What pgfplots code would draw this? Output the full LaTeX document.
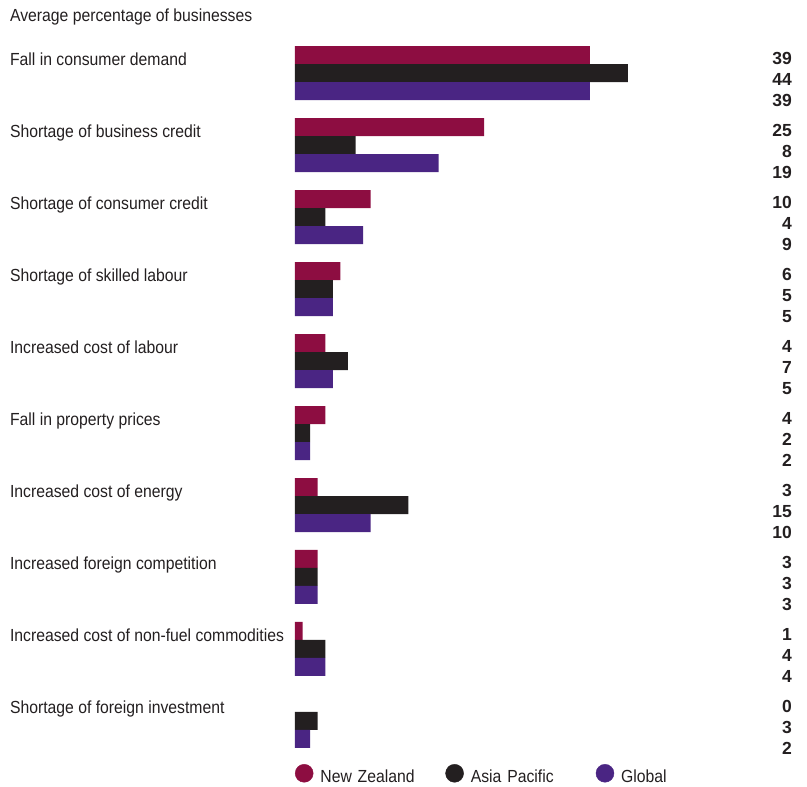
\documentclass[border=0pt]{standalone}
\usepackage{fontspec}
\setmainfont{Liberation Sans}[FakeStretch=0.9]
\newfontfamily\numfont{Liberation Sans}
\usepackage{pgfplots}
\pgfplotsset{compat=1.18}
\usepackage{pgfplotstable}
\definecolor{nz}{HTML}{8D0D41}
\definecolor{ap}{HTML}{231F20}
\definecolor{gl}{HTML}{4A2583}
\definecolor{txt}{HTML}{231F20}
\newcommand\lbl{\fontsize{17.5}{20}\selectfont}
\newcommand\valfont{\numfont\bfseries\fontsize{17.5}{20}\selectfont}

\pgfplotstableread{
g nz ap gl
0 39 44 39
1 25 8 19
2 10 4 9
3 6 5 5
4 4 7 5
5 4 2 2
6 3 15 10
7 3 3 3
8 1 4 4
9 0 3 2
}\data

\pgfplotstableread[col sep=comma]{
g,label
0,Fall in consumer demand
1,Shortage of business credit
2,Shortage of consumer credit
3,Shortage of skilled labour
4,Increased cost of labour
5,Fall in property prices
6,Increased cost of energy
7,Increased foreign competition
8,Increased cost of non-fuel commodities
9,Shortage of foreign investment
}\cats

\begin{document}
\begin{tikzpicture}
\begin{axis}[
  at={(0,0)}, anchor=north west,
  scale only axis, width=807pt, height=787pt,
  xmin=-39, xmax=67.69, ymin=-0.639, ymax=10.292,
  y dir=reverse, hide axis, clip=false,
  legend columns=3,
  legend style={at={(axis cs:0,10.111)}, anchor=west, draw=none, fill=none,
    inner sep=0pt, outer sep=0pt, font=\lbl, text=txt,
    nodes={inner sep=0pt, text width=125pt, align=left},
    /tikz/every odd column/.append style={column sep=7pt}},
]
\addplot[xbar, bar width=18pt, bar shift=0pt, fill=nz, draw=none, forget plot,
  x filter/.expression={x==0 ? nan : x}]
  table[x=nz, y expr=\thisrow{g}+0.125] {\data};
\addplot[xbar, bar width=18pt, bar shift=0pt, fill=ap, draw=none, forget plot]
  table[x=ap, y expr=\thisrow{g}+0.375] {\data};
\addplot[xbar, bar width=18pt, bar shift=0pt, fill=gl, draw=none, forget plot]
  table[x=gl, y expr=\thisrow{g}+0.625] {\data};

\addplot[draw=none, forget plot, nodes near coords, point meta=explicit symbolic,
  every node near coord/.append style={anchor=base east, inner sep=0pt, font=\valfont, text=txt}]
  table[x expr=65.71, y expr=\thisrow{g}+0.257, meta=nz] {\data};
\addplot[draw=none, forget plot, nodes near coords, point meta=explicit symbolic,
  every node near coord/.append style={anchor=base east, inner sep=0pt, font=\valfont, text=txt}]
  table[x expr=65.71, y expr=\thisrow{g}+0.552, meta=ap] {\data};
\addplot[draw=none, forget plot, nodes near coords, point meta=explicit symbolic,
  every node near coord/.append style={anchor=base east, inner sep=0pt, font=\valfont, text=txt}]
  table[x expr=65.71, y expr=\thisrow{g}+0.847, meta=gl] {\data};

\addplot[draw=none, forget plot, nodes near coords, point meta=explicit symbolic,
  every node near coord/.append style={anchor=base west, inner sep=0pt, font=\lbl, text=txt}]
  table[x expr=-37.7, y expr=\thisrow{g}+0.264, meta=label] {\cats};

\node[anchor=base west, inner sep=0pt, font=\lbl, text=txt] at (axis cs:-37.7,-0.347) {Average percentage of businesses};

\addlegendimage{legend image code/.code={\fill[nz] (9pt,0.35em) circle (9pt);}}
\addlegendentry{New Zealand}
\addlegendimage{legend image code/.code={\fill[ap] (9pt,0.35em) circle (9pt);}}
\addlegendentry{Asia Pacific}
\addlegendimage{legend image code/.code={\fill[gl] (9pt,0.35em) circle (9pt);}}
\addlegendentry{Global}
\end{axis}
\pgfresetboundingbox
\path (0,0) rectangle (807pt,-787pt);
\end{tikzpicture}
\end{document}
